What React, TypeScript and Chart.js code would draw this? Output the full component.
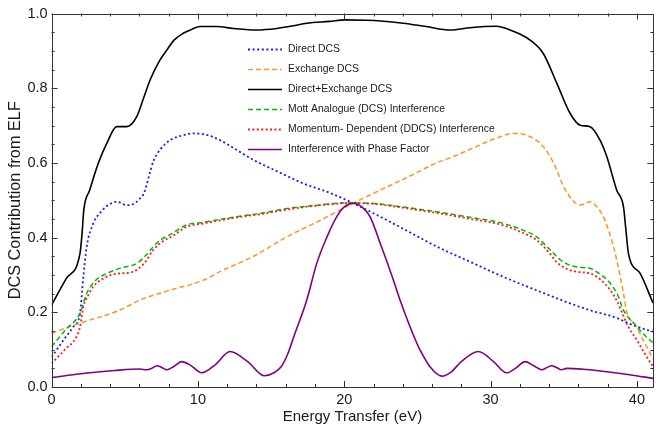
import React, { useEffect, useRef } from 'react';
import { Chart, registerables } from 'chart.js';
Chart.register(...registerables);

const X_MIN = 0;
const X_MAX = 41.12;
const Y_MIN = 0;
const Y_MAX = 1;
const xTickValues = [0, 10, 20, 30, 40];
const yTickValues = [0, 0.2, 0.4, 0.6, 0.8, 1.0];

const legendLabels = [
  'Direct DCS',
  'Exchange DCS',
  'Direct+Exchange DCS',
  'Mott Analogue (DCS) Interference',
  'Momentum- Dependent (DDCS) Interference',
  'Interference with Phase Factor',
];

const directX = [0, 0.8, 1.48, 1.94, 2.17, 2.4, 2.85, 3.4, 3.9, 4.45, 5.13, 5.6, 6.0, 6.3, 6.73, 6.95, 7.41, 8.1, 8.8, 9.7, 10.6, 11.51, 12.6, 13.79, 15.5, 17.2, 19.0, 20.62, 22.45, 24.3, 26.32, 28.5, 30.87, 33.2, 35.43, 37.0, 38.39, 39.9, 41.1];
const directY = [0.08, 0.125, 0.161, 0.197, 0.295, 0.376, 0.438, 0.47, 0.488, 0.496, 0.487, 0.49, 0.503, 0.518, 0.575, 0.604, 0.635, 0.661, 0.672, 0.679, 0.675, 0.661, 0.636, 0.608, 0.576, 0.545, 0.52, 0.492, 0.456, 0.418, 0.376, 0.337, 0.295, 0.258, 0.224, 0.203, 0.188, 0.163, 0.148];

const exchangeX = [0, 1.94, 4.68, 6.04, 8.0, 10.37, 11.51, 13.8, 16.07, 18.3, 20.62, 22.45, 24.5, 26.3, 27.46, 28.8, 30.3, 31.56, 32.6, 33.61, 34.3, 35.0, 35.6, 36.12, 36.8, 37.2, 37.71, 38.4, 38.62, 39.08, 39.31, 39.9, 40.5, 41.1];
const exchangeY = [0.144, 0.171, 0.206, 0.233, 0.258, 0.286, 0.309, 0.35, 0.402, 0.445, 0.492, 0.527, 0.565, 0.6, 0.617, 0.64, 0.665, 0.679, 0.672, 0.643, 0.6, 0.536, 0.5, 0.487, 0.496, 0.485, 0.456, 0.376, 0.34, 0.251, 0.2, 0.166, 0.12, 0.075];

const totalX = [0, 1.0, 1.94, 2.08, 2.2, 2.6, 3.2, 3.77, 4.45, 5.13, 5.82, 6.3, 6.73, 7.4, 7.87, 8.4, 9.0, 9.6, 10.14, 11.28, 12.42, 14.02, 15.39, 16.5, 17.44, 19.0, 20.05, 21.5, 22.5, 24.04, 25.6, 27.23, 28.6, 29.6, 30.42, 31.33, 32.0, 32.7, 33.6, 34.53, 35.43, 36.12, 36.8, 37.48, 37.94, 38.62, 39.08, 39.25, 39.42, 40.22, 41.1];
const totalY = [0.22, 0.29, 0.358, 0.41, 0.474, 0.527, 0.6, 0.652, 0.697, 0.697, 0.724, 0.775, 0.822, 0.875, 0.902, 0.93, 0.947, 0.958, 0.965, 0.965, 0.96, 0.956, 0.96, 0.967, 0.974, 0.979, 0.983, 0.982, 0.98, 0.974, 0.965, 0.956, 0.962, 0.965, 0.966, 0.956, 0.945, 0.929, 0.893, 0.813, 0.733, 0.701, 0.697, 0.661, 0.617, 0.527, 0.483, 0.42, 0.358, 0.304, 0.225];

const mottX = [0, 1.0, 1.94, 2.4, 3.0, 3.77, 4.68, 5.82, 6.5, 6.95, 7.5, 8.2, 9.23, 10.4, 11.51, 12.65, 14.3, 16.07, 18.0, 20.17, 21.76, 24.0, 26.32, 28.5, 30.87, 32.2, 33.15, 34.0, 34.79, 35.5, 36.3, 36.8, 37.4, 38.17, 38.7, 39.08, 39.9, 40.5, 41.1];
const mottY = [0.108, 0.155, 0.197, 0.251, 0.285, 0.304, 0.318, 0.331, 0.355, 0.376, 0.395, 0.41, 0.434, 0.441, 0.449, 0.456, 0.465, 0.478, 0.486, 0.493, 0.492, 0.482, 0.469, 0.455, 0.438, 0.42, 0.402, 0.37, 0.34, 0.325, 0.32, 0.318, 0.304, 0.278, 0.245, 0.206, 0.166, 0.14, 0.118];

const momentumX = [0, 0.9, 1.71, 1.94, 2.17, 2.5, 2.85, 3.5, 4.22, 4.68, 5.59, 6.3, 6.95, 7.6, 8.3, 9.23, 10.4, 11.51, 12.65, 14.3, 16.07, 18.0, 20.17, 21.76, 24.0, 26.32, 28.5, 30.87, 32.2, 33.15, 34.0, 34.5, 35.3, 36.0, 36.8, 37.5, 38.17, 38.7, 39.08, 39.42, 39.99, 40.6, 41.1];
const momentumY = [0.063, 0.1, 0.135, 0.161, 0.215, 0.245, 0.269, 0.29, 0.302, 0.304, 0.309, 0.33, 0.367, 0.39, 0.405, 0.429, 0.438, 0.446, 0.454, 0.463, 0.475, 0.485, 0.492, 0.491, 0.48, 0.466, 0.451, 0.433, 0.413, 0.393, 0.36, 0.335, 0.315, 0.308, 0.304, 0.288, 0.26, 0.225, 0.19, 0.161, 0.126, 0.085, 0.055];

const phaseX = [0, 1.3, 2.62, 4.3, 6.04, 6.5, 6.85, 7.18, 7.5, 7.87, 8.35, 8.89, 9.5, 10.26, 11.2, 12.19, 13.4, 14.55, 15.2, 15.7, 16.1, 16.6, 17.44, 18.12, 18.8, 19.49, 20.0, 20.62, 21.2, 21.76, 22.5, 23.36, 23.81, 24.96, 25.18, 25.86, 26.66, 27.3, 28.0, 29.17, 30.2, 31.1, 31.7, 32.36, 32.9, 33.5, 33.85, 34.18, 34.5, 34.87, 35.2, 36.5, 37.94, 39.5, 41.1];
const phaseY = [0.025, 0.032, 0.038, 0.044, 0.048, 0.046, 0.05, 0.057, 0.053, 0.046, 0.055, 0.068, 0.058, 0.038, 0.06, 0.095, 0.068, 0.03, 0.038, 0.055, 0.085, 0.14, 0.233, 0.331, 0.4, 0.456, 0.482, 0.492, 0.482, 0.456, 0.38, 0.286, 0.233, 0.117, 0.099, 0.054, 0.029, 0.04, 0.068, 0.095, 0.068, 0.038, 0.05, 0.068, 0.058, 0.046, 0.052, 0.057, 0.052, 0.046, 0.05, 0.047, 0.041, 0.033, 0.023];

const FONT = '"Liberation Sans", Arial, Helvetica, sans-serif';
const TEXT = '#1a1a1a';
const FRAME = '#333333';

const toPoints = (xs: number[], ys: number[]) => xs.map((x, i) => ({ x, y: ys[i] }));

const frameTicks = {
  id: 'frameTicks',
  afterDatasetsDraw(chart: any) {
    const { ctx, chartArea: a, scales } = chart;
    const xs = scales.x;
    const ys = scales.y;
    ctx.save();
    ctx.strokeStyle = FRAME;
    ctx.lineWidth = 1;
    ctx.beginPath();
    ctx.rect(Math.round(a.left) + 0.5, Math.round(a.top) + 0.5, Math.round(a.right) - Math.round(a.left), Math.round(a.bottom) - Math.round(a.top));
    ctx.stroke();
    ctx.beginPath();
    for (let k = 0; k * 2 <= X_MAX; k++) {
      const v = k * 2;
      const px = Math.round(xs.getPixelForValue(v)) + 0.5;
      const len = v % 10 === 0 ? 6 : 3;
      ctx.moveTo(px, a.bottom);
      ctx.lineTo(px, a.bottom - len);
      ctx.moveTo(px, a.top);
      ctx.lineTo(px, a.top + len);
    }
    for (let k = 0; k <= 20; k++) {
      const v = k * 0.05;
      const py = Math.round(ys.getPixelForValue(v)) + 0.5;
      const len = k % 4 === 0 ? 6 : 3;
      ctx.moveTo(a.left, py);
      ctx.lineTo(a.left + len, py);
      ctx.moveTo(a.right, py);
      ctx.lineTo(a.right - len, py);
    }
    ctx.stroke();
    ctx.restore();
  },
  afterDraw(chart: any) {
    const { ctx } = chart;
    const ds = chart.data.datasets;
    ctx.save();
    ctx.font = '10.4px ' + FONT;
    ctx.textBaseline = 'middle';
    ctx.fillStyle = TEXT;
    const x0 = 248;
    const x1 = 282;
    const tx = 288;
    const y0 = 48.5;
    const dy = 20.1;
    ds.forEach((d: any, i: number) => {
      const y = Math.round(y0 + i * dy) + 0.5;
      ctx.save();
      ctx.strokeStyle = d.borderColor;
      ctx.lineWidth = d.borderWidth;
      ctx.setLineDash(d.borderDash || []);
      ctx.beginPath();
      ctx.moveTo(x0, y);
      ctx.lineTo(x1, y);
      ctx.stroke();
      ctx.restore();
      ctx.fillText(d.label, tx, y);
    });
    ctx.restore();
  },
};

export default function App() {
  const ref = useRef<HTMLCanvasElement | null>(null);
  useEffect(() => {
    if (!ref.current) return;
    const series = [
      { label: legendLabels[0], data: toPoints(directX, directY), borderColor: '#1a1aff', borderDash: [2, 2.6], borderWidth: 1.8 },
      { label: legendLabels[1], data: toPoints(exchangeX, exchangeY), borderColor: '#ff9426', borderDash: [5, 3], borderWidth: 1.5 },
      { label: legendLabels[2], data: toPoints(totalX, totalY), borderColor: '#000000', borderDash: [], borderWidth: 1.6 },
      { label: legendLabels[3], data: toPoints(mottX, mottY), borderColor: '#00b800', borderDash: [5, 3], borderWidth: 1.5 },
      { label: legendLabels[4], data: toPoints(momentumX, momentumY), borderColor: '#ff1a1a', borderDash: [2, 2.4], borderWidth: 1.8 },
      { label: legendLabels[5], data: toPoints(phaseX, phaseY), borderColor: '#800080', borderDash: [], borderWidth: 1.6 },
    ];
    const chart = new Chart(ref.current, {
      type: 'line',
      data: {
        datasets: series.map((s, i) => ({
          ...s,
          order: 10 - i,
          fill: false,
          pointRadius: 0,
          pointHoverRadius: 0,
          cubicInterpolationMode: 'monotone' as const,
          borderCapStyle: 'butt' as const,
        })),
      },
      options: {
        responsive: false,
        animation: false,
        events: [],
        layout: { padding: { top: 13.5, right: 2.7, left: 0, bottom: 0 } },
        plugins: { legend: { display: false }, tooltip: { enabled: false } },
        scales: {
          x: {
            type: 'linear',
            min: X_MIN,
            max: X_MAX,
            afterBuildTicks: (scale: any) => {
              scale.ticks = xTickValues.map((v) => ({ value: v }));
            },
            afterFit: (scale: any) => {
              scale.height = 46;
            },
            grid: { display: false, drawTicks: false },
            border: { display: false },
            ticks: {
              color: TEXT,
              font: { family: FONT, size: 14.5 },
              padding: 4,
              maxRotation: 0,
              autoSkip: false,
              callback: (v: any) => String(v),
            },
            title: {
              display: true,
              text: 'Energy Transfer (eV)',
              color: TEXT,
              font: { family: FONT, size: 15 },
              padding: { top: 0, bottom: 7 },
            },
          },
          y: {
            type: 'linear',
            min: Y_MIN,
            max: Y_MAX,
            afterBuildTicks: (scale: any) => {
              scale.ticks = yTickValues.map((v) => ({ value: v }));
            },
            afterFit: (scale: any) => {
              scale.width = 51.6;
            },
            grid: { display: false, drawTicks: false },
            border: { display: false },
            ticks: {
              color: TEXT,
              font: { family: FONT, size: 14.5 },
              padding: 4,
              callback: (v: any) => Number(v).toFixed(1),
            },
            title: {
              display: true,
              text: 'DCS Contribution from ELF',
              color: TEXT,
              font: { family: FONT, size: 16.3 },
              padding: { top: 6, bottom: 0 },
            },
          },
        },
      },
      plugins: [frameTicks],
    });
    return () => chart.destroy();
  }, []);
  return (
    <div style={{ position: 'absolute', left: 0, top: 0, width: 656, height: 433, background: '#fff' }}>
      <canvas ref={ref} width={656} height={433} style={{ display: 'block' }} />
    </div>
  );
}
